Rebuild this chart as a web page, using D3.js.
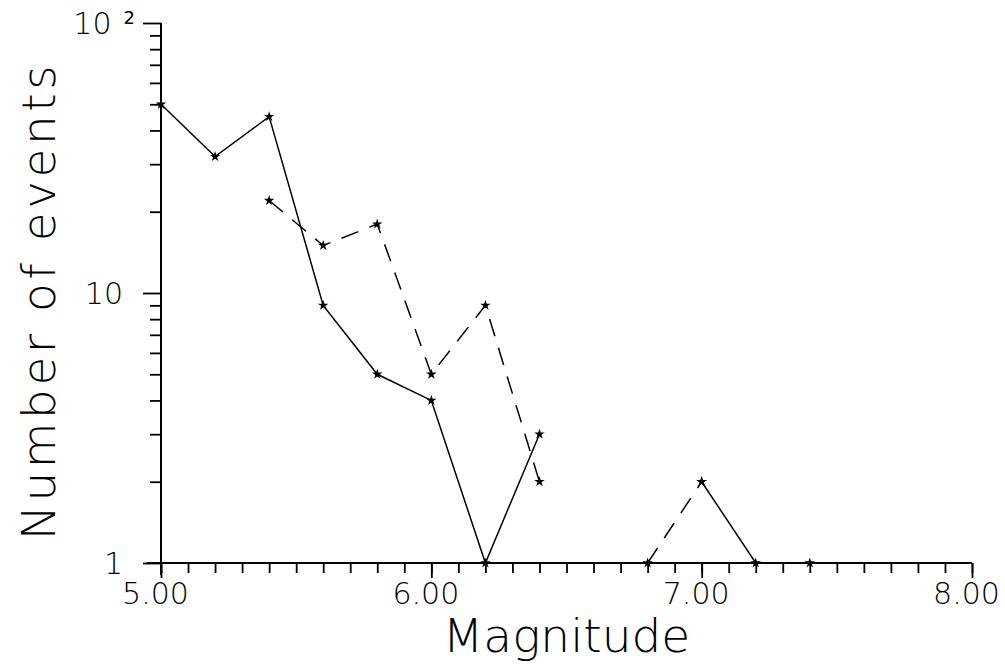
<!DOCTYPE html>
<html>
<head>
<meta charset="utf-8">
<script src="https://cdn.jsdelivr.net/npm/d3@7"></script>
<style>
  body { margin: 0; background: #fff; }
  svg { display: block; }
  text { font-family: "DejaVu Sans", sans-serif; font-weight: 200; fill: #000; }
  .domain { stroke: #000; stroke-width: 2; }
  .tick line { stroke: #000; stroke-width: 1.8; }
</style>
</head>
<body>
<div id="chart"></div>
<script>
// magnitude bins
const magnitudes = [5.0, 5.2, 5.4, 5.6, 5.8, 6.0, 6.2, 6.4, 6.6, 6.8, 7.0, 7.2, 7.4];
// solid line series (0 = no events, not drawn on log axis)
const solidCounts = [50, 32, 45, 9, 5, 4, 1, 3, 0, 0, 2, 1, 1];
// dashed line series
const dashedCounts = [0, 0, 22, 15, 18, 5, 9, 2, 0, 1, 2, 0, 0];

const xMajor = [5, 6, 7, 8];
const yMajor = [1, 10, 100];

const width = 1005, height = 664;
const margin = { top: 23, right: 33, bottom: 101, left: 161 };
const w = width - margin.left - margin.right;
const h = height - margin.top - margin.bottom;

const x = d3.scaleLinear().domain([5, 8]).range([0, w]);
const y = d3.scaleLog().domain([1, 100]).range([h, 0]);

const svg = d3.select("#chart").append("svg")
    .attr("width", width)
    .attr("height", height)
  .append("g")
    .attr("transform", `translate(${margin.left},${margin.top})`);

// minor ticks
const xMinor = d3.range(50, 81).map(d => d / 10);
const yMinor = [];
[1, 10].forEach(p => { for (let k = 2; k <= 9; k++) yMinor.push(k * p); });

svg.append("g")
    .attr("transform", `translate(0,${h})`)
    .call(d3.axisBottom(x).tickValues(xMinor).tickSize(10).tickFormat(""))
    .call(g => g.select(".domain").remove());

svg.append("g")
    .call(d3.axisLeft(y).tickValues(yMinor).tickSize(11).tickFormat(""))
    .call(g => g.select(".domain").remove());

// major ticks + labels
svg.append("g")
    .attr("transform", `translate(0,${h})`)
    .call(d3.axisBottom(x).tickValues(xMajor).tickSize(15).tickSizeOuter(0).tickFormat(d3.format(".2f")))
    .call(g => g.select(".domain").attr("d", `M-14,0H${w}`))
    .call(g => g.selectAll(".tick text")
        .attr("font-size", 30).attr("dx", -6).attr("y", 20).attr("dy", "0.71em"));

const yAxis = svg.append("g")
    .call(d3.axisLeft(y).tickValues(yMajor).tickSize(18).tickSizeOuter(0).tickFormat(d => d === 100 ? "" : d))
    .call(g => g.select(".domain").attr("d", `M0,0V${h + 12}`))
    .call(g => g.selectAll(".tick text")
        .attr("font-size", 30).attr("x", -38).attr("dy", "0.36em"));

// 10^2 label
const topLabel = yAxis.selectAll(".tick").filter(d => d === 100).select("text");
topLabel.attr("x", -26);
topLabel.append("tspan").text("10");
topLabel.append("tspan").attr("dx", 12).attr("dy", -10).attr("font-size", 18).attr("font-weight", 400).text("2");

// lines
const line = d3.line()
    .defined(d => d[1] > 0)
    .x(d => x(d[0]))
    .y(d => y(d[1]));

const solid = magnitudes.map((m, i) => [m, solidCounts[i]]);
const dashed = magnitudes.map((m, i) => [m, dashedCounts[i]]);

svg.append("path")
    .datum(solid)
    .attr("fill", "none")
    .attr("stroke", "#000")
    .attr("stroke-width", 1.5)
    .attr("d", line);

svg.append("path")
    .datum(dashed)
    .attr("fill", "none")
    .attr("stroke", "#000")
    .attr("stroke-width", 1.5)
    .attr("stroke-dasharray", "18,12")
    .attr("d", line);

const star = d3.symbol().type(d3.symbolStar).size(34);
svg.selectAll(".pt")
    .data(solid.concat(dashed).filter(d => d[1] > 0))
  .enter().append("path")
    .attr("class", "pt")
    .attr("transform", d => `translate(${x(d[0])},${y(d[1])})`)
    .attr("d", star)
    .attr("fill", "#000");

// axis titles
svg.append("text")
    .attr("x", w / 2)
    .attr("y", h + 89)
    .attr("text-anchor", "middle")
    .attr("font-size", 47)
    .text("Magnitude");

svg.append("text")
    .attr("transform", `translate(${55 - margin.left},${h / 2 + 8}) rotate(-90)`)
    .attr("text-anchor", "middle")
    .attr("font-size", 47)
    .attr("letter-spacing", 3.5)
    .text("Number of events");
</script>
</body>
</html>
